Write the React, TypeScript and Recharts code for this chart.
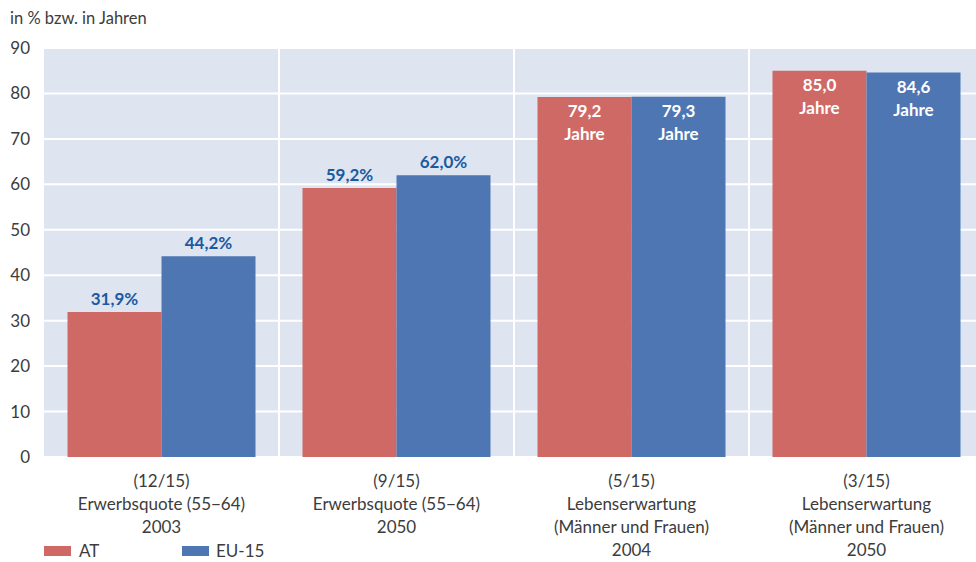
import React from 'react';
import { BarChart, Bar, XAxis, YAxis, CartesianGrid, LabelList } from 'recharts';

// Categories (each line of the axis label separated by \n)
const categories = [
  '(12/15)\nErwerbsquote (55−64)\n2003',
  '(9/15)\nErwerbsquote (55−64)\n2050',
  '(5/15)\nLebenserwartung\n(Männer und Frauen)\n2004',
  '(3/15)\nLebenserwartung\n(Männer und Frauen)\n2050',
];

// Series values
const atValues = [31.9, 59.2, 79.2, 85.0];
const euValues = [44.2, 62.0, 79.3, 84.6];

// Unit shown in each value label
const units = ['%', '%', 'Jahre', 'Jahre'];

const seriesNames = ['AT', 'EU-15'];
const yTicks = [0, 10, 20, 30, 40, 50, 60, 70, 80, 90];
const axisTitle = 'in % bzw. in Jahren';

const AT_COLOR = '#cf6965';
const EU_COLOR = '#4e76b3';
const LABEL_BLUE = '#1b5aa0';
const TEXT_COLOR = '#3c3c3c';
const FONT = 'Lato, "Open Sans", sans-serif';

const data = categories.map((c, i) => ({
  name: c,
  at: atValues[i],
  eu: euValues[i],
  unit: units[i],
}));

const fmt = (v: number) => v.toFixed(1).replace('.', ',');

const ValueLabel = (props: any) => {
  const { x, y, width, value, index } = props;
  const cx = Number(x) + Number(width) / 2;
  const top = Number(y);
  const unit = units[index];
  if (unit === '%') {
    return (
      <text x={cx} y={top - 7} textAnchor="middle" fill={LABEL_BLUE}
        fontFamily={FONT} fontWeight={700} fontSize={17}>
        {fmt(Number(value)) + '%'}
      </text>
    );
  }
  return (
    <g>
      <text x={cx} y={top + 20} textAnchor="middle" fill="#ffffff"
        fontFamily={FONT} fontWeight={700} fontSize={17}>
        {fmt(Number(value))}
      </text>
      <text x={cx} y={top + 43} textAnchor="middle" fill="#ffffff"
        fontFamily={FONT} fontWeight={700} fontSize={17}>
        {unit}
      </text>
    </g>
  );
};

const CategoryTick = (props: any) => {
  const { x, y, payload } = props;
  const lines = String(payload.value).split('\n');
  return (
    <g>
      {lines.map((line: string, i: number) => (
        <text key={i} x={x} y={Number(y) + 22 + i * 23} textAnchor="middle"
          fill={TEXT_COLOR} fontFamily={FONT} fontSize={17}>
          {line}
        </text>
      ))}
    </g>
  );
};

const boundaryLines = (props: any) => {
  const off = props.offset || {};
  const left = off.left ?? 44;
  const width = off.width ?? 940;
  const n = categories.length;
  const out: number[] = [];
  for (let i = 1; i < n; i++) out.push(left + (i * width) / n);
  return out;
};

export default function App() {
  return (
    <div style={{ position: 'absolute', left: 0, top: 0, width: 976, height: 562, overflow: 'hidden', background: '#fff' }}>
      <div style={{ position: 'absolute', left: 10, top: 8, fontFamily: FONT, fontSize: 16.5, color: TEXT_COLOR }}>
        {axisTitle}
      </div>
      <BarChart
        width={990}
        height={562}
        data={data}
        margin={{ top: 48, right: 6, left: 0, bottom: 0 }}
        barCategoryGap="10%"
        barGap={0}
      >
        <CartesianGrid
          fill="#dfe4f1"
          stroke="#ffffff"
          strokeWidth={2}
          verticalCoordinatesGenerator={boundaryLines}
        />
        <XAxis
          dataKey="name"
          axisLine={false}
          tickLine={false}
          height={105}
          interval={0}
          tick={<CategoryTick />}
        />
        <YAxis
          width={44}
          domain={[0, 90]}
          ticks={yTicks}
          axisLine={false}
          tickLine={false}
          tickSize={0}
          tickMargin={14}
          tick={{ fill: TEXT_COLOR, fontFamily: FONT, fontSize: 17 }}
        />
        <Bar dataKey="at" name={seriesNames[0]} fill={AT_COLOR} isAnimationActive={false}>
          <LabelList dataKey="at" content={<ValueLabel />} />
        </Bar>
        <Bar dataKey="eu" name={seriesNames[1]} fill={EU_COLOR} isAnimationActive={false}>
          <LabelList dataKey="eu" content={<ValueLabel />} />
        </Bar>
      </BarChart>
      <div style={{ position: 'absolute', left: 44, top: 542, lineHeight: '18px', display: 'flex', alignItems: 'center', fontFamily: FONT, fontSize: 17, color: TEXT_COLOR }}>
        <span style={{ display: 'inline-block', width: 27, height: 10, background: AT_COLOR, marginRight: 8 }} />
        <span style={{ width: 103 }}>{seriesNames[0]}</span>
        <span style={{ display: 'inline-block', width: 27, height: 10, background: EU_COLOR, marginRight: 7 }} />
        <span>{seriesNames[1]}</span>
      </div>
    </div>
  );
}
